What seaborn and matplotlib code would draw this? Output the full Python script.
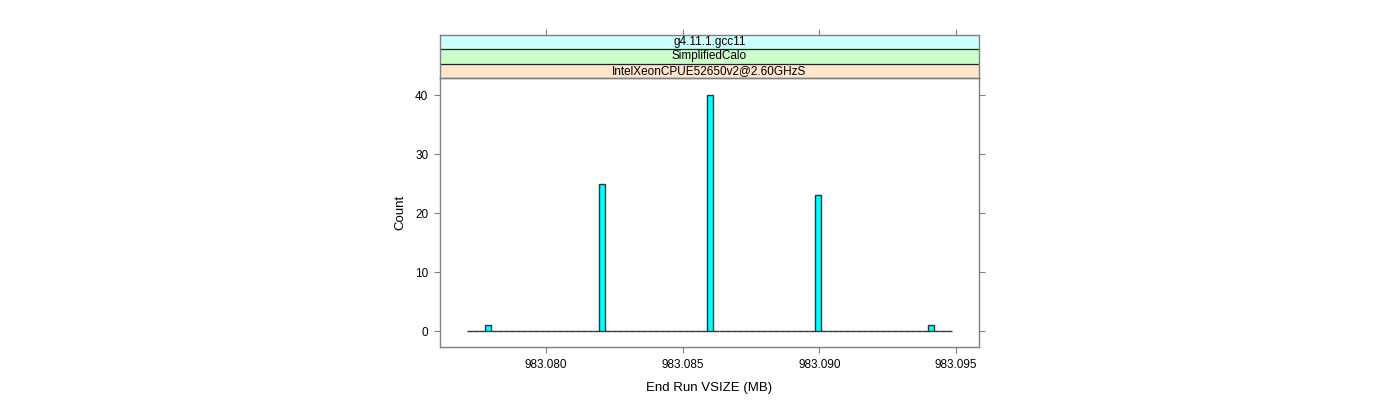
import numpy as np
import pandas as pd
import matplotlib
matplotlib.use("Agg")
import matplotlib.pyplot as plt
import seaborn as sns

# values
vsize_mb = [983.0779, 983.0820, 983.0859, 983.0900, 983.0941]
counts = [1, 25, 40, 23, 1]
strip_labels = ["g4.11.1.gcc11", "SimplifiedCalo", "IntelXeonCPUE52650v2@2.60GHzS"]
strip_colors = ["#CCFFFF", "#CCFFCC", "#FFE5CC"]
x_ticks = [983.080, 983.085, 983.090, 983.095]
y_ticks = [0, 10, 20, 30, 40]

sns.set_style("white")
plt.rcParams["font.family"] = ["Liberation Sans", "DejaVu Sans"]
plt.rcParams["text.color"] = "black"
plt.rcParams["axes.labelcolor"] = "black"
plt.rcParams["xtick.labelcolor"] = "black"
plt.rcParams["ytick.labelcolor"] = "black"

df = pd.DataFrame({"vsize": vsize_mb, "count": counts})

fig = plt.figure(figsize=(14, 4), dpi=100)
W, H = 1400, 400
ax = fig.add_axes([440 / W, 1 - 347 / H, (979 - 440) / W, (347 - 78) / H])
strip = fig.add_axes([440 / W, 1 - 78 / H, (979 - 440) / W, (78 - 34.7) / H])

sns.histplot(data=df, x="vsize", weights="count", binwidth=0.000219,
             binrange=(983.07712, 983.09486), ax=ax,
             color="#00FFFF", alpha=1, edgecolor="#333333", linewidth=1.0)

frame = "#808080"
xlim = (983.07612, 983.09584)
ax.set_xlim(*xlim)
ax.set_ylim(-2.7, 42.9)
ax.set_xticks(x_ticks)
ax.set_xticklabels([f"{t:.3f}" for t in x_ticks])
ax.set_yticks(y_ticks)
ax.tick_params(axis="both", direction="out", length=4.5, width=0.8, color=frame,
               labelsize=8.5, labelcolor="black", bottom=True, left=True,
               right=True, top=False, pad=4)
ax.tick_params(axis="y", labelright=False)
for s in ax.spines.values():
    s.set_color(frame)
    s.set_linewidth(1.0)
ax.set_xlabel("End Run VSIZE (MB)", fontsize=9.5, labelpad=8, color="black")
ax.set_ylabel("Count", fontsize=9.5, labelpad=6, color="black")

# strips above the panel
strip.set_xlim(*xlim)
strip.set_ylim(0, 3)
for i, (lab, col) in enumerate(zip(strip_labels, strip_colors)):
    y0 = 2 - i
    strip.axhspan(y0, y0 + 1, color=col, zorder=0)
    strip.axhline(y0, color="#222222", lw=0.9)
    strip.text(np.mean(xlim), y0 + 0.5, lab, ha="center", va="center",
               fontsize=8.5, color="black")
strip.set_xticks(x_ticks)
strip.set_yticks([])
strip.tick_params(axis="x", direction="out", length=4.5, width=0.8, color=frame,
                  bottom=False, top=True, labelbottom=False, labeltop=False)
for s in strip.spines.values():
    s.set_color(frame)
    s.set_linewidth(1.0)

fig.savefig("out.png", dpi=100)
